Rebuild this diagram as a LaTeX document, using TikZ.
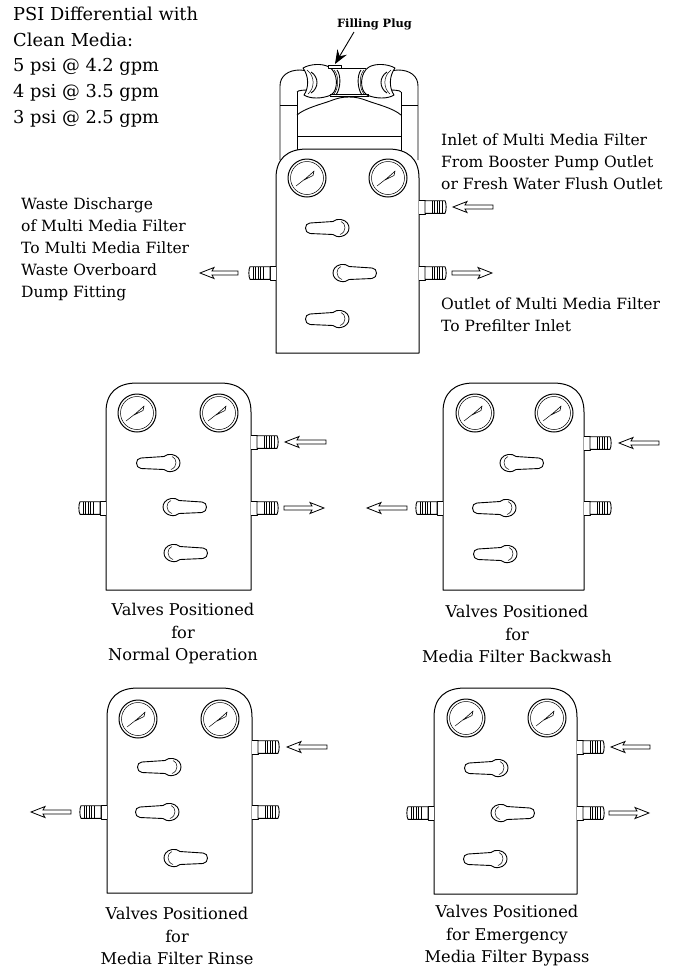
\documentclass[tikz,border=0pt]{standalone}
\usepackage{fontspec}
\setmainfont{DejaVu Serif}
\usetikzlibrary{arrows.meta}
\tikzset{
  ln/.style={draw=black,line width=0.9pt,line join=round},
  thinln/.style={draw=black,line width=0.5pt},
  lbl/.style={inner sep=0pt,align=left,anchor=north west,font=\fontsize{15.5}{22.5}\selectfont},
  captext/.style={inner sep=0pt,align=center,anchor=center,font=\fontsize{16.2}{22.5}\selectfont},
  flowarrow/.style={draw=black,line width=0.8pt,fill=white,line join=miter},
}
\newcommand{\gaugeat}[2]{%
  \begin{scope}[shift={(#1,#2)}]
    \draw[ln,line width=1pt] (0,0) circle (19);
    \draw[thinln] (0,0) circle (16.5);
    \draw[thinln] (-11,8) -- (-2,1);
    \draw[ln,fill=white,line width=0.6pt] (-3,2) -- (5,-5) -- (7,-7) -- (6,-2.5) -- cycle;
  \end{scope}}
\newcommand{\valveat}[3]{%
  \begin{scope}[shift={(#1,#2)},xscale=#3]
    \draw[ln,line width=0.9pt,fill=white] (-17,-5) -- (6,-6.5) .. controls (8,-8.5) and (11,-9) .. (14,-8.5)
      .. controls (20,-7.5) and (22,-3) .. (22,0) .. controls (22,4) and (19,7.5) .. (14,8.5)
      .. controls (10,9) and (8,8) .. (6,6.5) -- (-17,5.5) .. controls (-23,5) and (-23,-5) .. (-17,-5) -- cycle;
    \draw[thinln] (14,-6.5) .. controls (19,-5) and (20,4) .. (13,6.5);
  \end{scope}}
\newcommand{\fittingat}[3]{%
  \begin{scope}[shift={(#1,#2)},xscale=#3]
    \draw[ln,fill=white] (0,-7) -- (6,-7) -- (6,7) -- (0,7);
    \draw[ln,fill=white] (6,-6.3) -- (26,-6.3) .. controls (27.5,-4) and (27.5,4) .. (26,6.3) -- (6,6.3) -- cycle;
    \foreach \rx in {13,15.5,18,20.5,23} \draw[thinln,line width=0.7pt] (\rx,-6.3) -- (\rx,6.3);
  \end{scope}}
\newcommand{\flowat}[4]{% tip x, y, length, direction
  \begin{scope}[shift={(#1,#2)},xscale=#4]
    \draw[flowarrow] (0,0) -- (14,-5.5) -- (12,-2) -- (#3,-2) -- (#3,2) -- (12,2) -- (14,5.5) -- cycle;
  \end{scope}}
\newcommand{\bodyat}[4]{% L R T B
  \draw[ln,line width=1pt,fill=white] (#1,#4) -- (#1,#3+29) .. controls (#1,#3+10) and (#1+11,#3) .. (#1+31,#3)
    -- (#2-31,#3) .. controls (#2-11,#3) and (#2,#3+10) .. (#2,#3+29) -- (#2,#4) -- cycle;}
\newcommand{\halfhead}{%
  % elbow pipe
  \draw[ln,fill=white] (280,160) -- (280,86) .. controls (280,76) and (288,70) .. (300,70) -- (310,71)
    -- (312,90) .. controls (305,90) and (298,90) .. (297,92);
  \draw[ln] (280,105) -- (297,105);
  % shoulder of reservoir
  \draw[ln] (297,92) -- (297,160);
  \draw[ln] (297,115) .. controls (305,108) and (322,104) .. (330,101) .. controls (338,98) and (342,97) .. (349,97);
  % union
  \draw[ln,fill=white] (303,68) .. controls (310,64) and (322,63) .. (329,67)
    .. controls (338,72) and (339,90) .. (331,95) .. controls (322,99) and (310,99) .. (304,95)
    .. controls (309,88) and (309,76) .. (303,68) -- cycle;
  \draw[ln] (311,72) .. controls (319,77) and (319,88) .. (311,93);
  \draw[thinln] (307,70) .. controls (315,76) and (315,88) .. (308,94);
  \draw[ln] (337,70) .. controls (341,75) and (341,88) .. (336,95);
  \draw[thinln] (334,70) .. controls (339,75) and (339,88) .. (334,94);
}
\begin{document}
\begin{tikzpicture}[x=1pt,y=-1pt]
\useasboundingbox (0,0) rectangle (675,967);
\fill[white] (0,0) rectangle (675,967);

% ---- top assembly
\halfhead
\begin{scope}[shift={(698,0)},xscale=-1]\halfhead\end{scope}
\draw[ln] (337,68.5) -- (366,68.5);
\draw[ln] (330,94) -- (369,94);
\draw[thinln] (330,96.5) -- (369,96.5);
\draw[ln] (297,136) -- (401,136);
\draw[ln,fill=white] (328,65) rectangle (341,68);
\bodyat{276}{419}{149}{353}
\gaugeat{307}{178}\gaugeat{388}{178}
\valveat{327}{228}{1}\valveat{355}{273}{-1}\valveat{327}{319}{1}
\fittingat{419}{207}{1}\fittingat{419}{273}{1}\fittingat{276}{273}{-1}
\flowat{453}{207}{40}{1}\flowat{492}{273}{40}{-1}\flowat{200}{273}{38}{1}

% ---- normal operation
\bodyat{106}{251}{383}{590}
\gaugeat{137}{413}\gaugeat{219}{413}
\valveat{158}{463}{1}\valveat{185}{507}{-1}\valveat{186}{553}{-1}
\fittingat{251}{442}{1}\fittingat{251}{508}{1}\fittingat{106}{508}{-1}
\flowat{285}{442}{41}{1}\flowat{324}{508}{40}{-1}

% ---- backwash
\bodyat{443}{584}{383}{590}
\gaugeat{475}{413}\gaugeat{554}{413}
\valveat{522}{463}{-1}\valveat{494}{508}{1}\valveat{495}{554}{1}
\fittingat{584}{443}{1}\fittingat{584}{508}{1}\fittingat{443}{508}{-1}
\flowat{619}{443}{40}{1}\flowat{367}{508}{40}{1}

% ---- rinse
\bodyat{107}{252}{688}{893}
\gaugeat{138}{719}\gaugeat{220}{719}
\valveat{159}{767}{1}\valveat{157}{812}{1}\valveat{186}{858}{-1}
\fittingat{252}{747}{1}\fittingat{252}{812}{1}\fittingat{107}{812}{-1}
\flowat{287}{747}{40}{1}\flowat{31}{812}{40}{1}

% ---- bypass
\bodyat{434}{577}{688}{894}
\gaugeat{466}{718}\gaugeat{547}{718}
\valveat{486}{768}{1}\valveat{513}{813}{-1}\valveat{485}{859}{1}
\fittingat{577}{747}{1}\fittingat{577}{813}{1}\fittingat{434}{813}{-1}
\flowat{611}{747}{39}{1}\flowat{649}{813}{40}{-1}

% ---- labels
\node[inner sep=0pt,font=\fontsize{11.4}{12}\selectfont\bfseries] (plugtext) at (374.5,24) {Filling Plug};
\coordinate (plugtip) at (335,64);
\draw[line width=0.9pt,-{Stealth[length=14pt,width=11pt,inset=5pt]}] (354,32) -- (plugtip);

\node[lbl,font=\fontsize{17.8}{25.6}\selectfont] (psi) at (13,7) {PSI Differential with\\Clean Media:\\5 psi @ 4.2 gpm\\4 psi @ 3.5 gpm\\3 psi @ 2.5 gpm};
\node[lbl,font=\fontsize{15.5}{22}\selectfont] (waste) at (21,198) {Waste Discharge\\of Multi Media Filter\\To Multi Media Filter\\Waste Overboard\\Dump Fitting};
\node[lbl,font=\fontsize{15.5}{22}\selectfont] (inlet) at (441,134) {Inlet of Multi Media Filter\\From Booster Pump Outlet\\or Fresh Water Flush Outlet};
\node[lbl,font=\fontsize{15.5}{21.5}\selectfont] (outlet) at (441,298) {Outlet of Multi Media Filter\\To Prefilter Inlet};

\node[captext] (c1) at (183,634) {Valves Positioned\\for\\Normal Operation};
\node[captext] (c2) at (517,634) {Valves Positioned\\for\\Media Filter Backwash};
\node[captext] (c3) at (177,936) {Valves Positioned\\for\\Media Filter Rinse};
\node[captext] (c4) at (507,936) {Valves Positioned\\for Emergency\\Media Filter Bypass};
\end{tikzpicture}
\end{document}
